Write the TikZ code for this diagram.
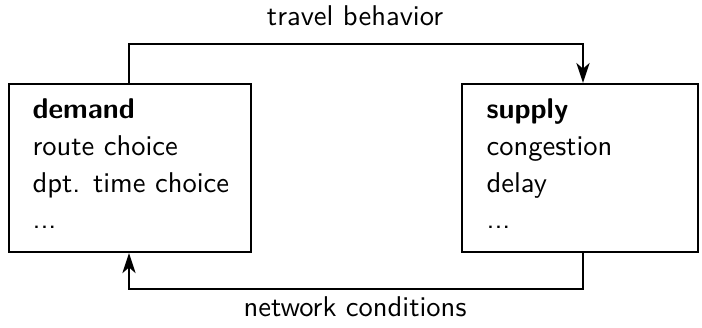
\documentclass[tikz,border=0pt]{standalone}
\usetikzlibrary{arrows.meta}
\begin{document}
\begin{tikzpicture}[x=0.35pt,y=0.35pt,
  txt/.style={font=\sffamily\fontsize{10}{12.85}\selectfont},
  boxstyle/.style={draw, line width=0.75pt, rectangle, inner sep=0pt, anchor=north west},
  content/.style={txt, align=left, inner sep=0pt, anchor=north west},
  conn/.style={line width=0.75pt, -{Stealth[length=7pt,width=4.6pt,inset=2pt]}},
  lbl/.style={txt, inner sep=0pt, anchor=base}]
\useasboundingbox (0,0) rectangle (702,328);
\node[boxstyle, minimum width=84.7pt, minimum height=58.8pt] (demand) at (8,245) {};
\node[boxstyle, minimum width=82.6pt, minimum height=58.8pt] (supply) at (461,245) {};
\node[content] (demandtxt) at (32,229.8) {\textbf{demand}\\route choice\\dpt. time choice\\...};
\node[content] (supplytxt) at (486,229.8) {\textbf{supply}\\congestion\\delay\\...};
\coordinate (L) at (129,0);
\coordinate (R) at (583,0);
\coordinate (topline) at (0,284);
\coordinate (botline) at (0,39);
\draw[conn] (L |- demand.north) -- (L |- topline) -- (R |- topline) -- (R |- supply.north);
\draw[conn] (R |- supply.south) -- (R |- botline) -- (L |- botline) -- (L |- demand.south);
\node[lbl] (travel) at (355,302) {travel behavior};
\node[lbl] (network) at (355,11) {network conditions};
\end{tikzpicture}
\end{document}
